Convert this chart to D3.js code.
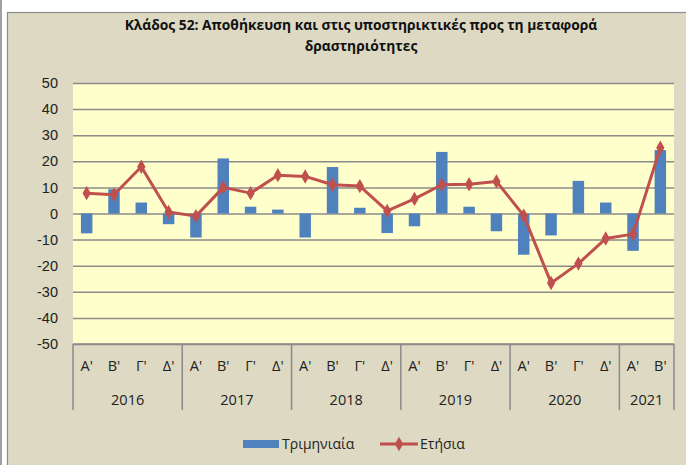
<!DOCTYPE html>
<html>
<head>
<meta charset="utf-8">
<script src="https://cdn.jsdelivr.net/npm/d3@7"></script>
<style>
  html, body { margin: 0; padding: 0; background: #fff; }
  svg { display: block; font-family: "Open Sans", "Noto Sans", sans-serif; }
</style>
</head>
<body>
<svg id="chart" width="686" height="465"></svg>
<script>
// quarters and years on the x axis
const years = ['2016', '2017', '2018', '2019', '2020', '2021'];
const quarterNames = ["Α'", "Β'", "Γ'", "Δ'"];
const quarterCount = [4, 4, 4, 4, 4, 2];

// values
const quarterly = [-7.6, 9.3, 4.2, -4.1, -9.2, 21.1, 2.6, 1.5, -9.2, 17.8, 2.2, -7.5,
                   -4.9, 23.6, 2.6, -6.8, -15.8, -8.4, 12.5, 4.2, -14.3, 24.3];
const annual = [7.8, 7.2, 17.9, 0.6, -1.0, 10.0, 7.8, 14.7, 14.2, 11.0, 10.5, 1.0,
                5.6, 11.0, 11.2, 12.3, -0.8, -26.6, -19.2, -9.6, -7.9, 25.2];

const yTicks = [50, 40, 30, 20, 10, 0, -10, -20, -30, -40, -50];
const titleLines = ['Κλάδος 52: Αποθήκευση και στις υποστηρικτικές προς τη μεταφορά', 'δραστηριότητες'];
const legendNames = ['Τριμηνιαία', 'Ετήσια'];

// build the category list
const cats = [];
years.forEach((yr, yi) => {
    for (let q = 0; q < quarterCount[yi]; q++) cats.push({ key: yr + '-' + q, year: yr, q: quarterNames[q] });
});

const svg = d3.select('#chart');
const margin = { top: 83, left: 73, right: 12, bottom: 121 };
const W = 686, H = 465;
const plotW = W - margin.left - margin.right;
const plotH = H - margin.top - margin.bottom;

// chart frame
svg.append('rect').attr('x', 0).attr('y', 0).attr('width', W).attr('height', H).attr('fill', '#fff');
svg.append('line').attr('x1', 1).attr('x2', 1).attr('y1', 0).attr('y2', H)
    .attr('stroke', '#a0a0a0').attr('stroke-width', 2);
svg.append('rect').attr('x', 7.5).attr('y', 12.5).attr('width', W).attr('height', H)
    .attr('fill', '#ddd9c3').attr('stroke', '#8c8c8c').attr('stroke-width', 1.2);

// title
svg.append('g').selectAll('text').data(titleLines).join('text')
    .attr('x', 361).attr('y', (d, i) => 30 + i * 21)
    .attr('text-anchor', 'middle')
    .attr('font-size', 13.8).attr('font-weight', 'bold').attr('fill', '#111')
    .text(d => d);

const g = svg.append('g').attr('transform', `translate(${margin.left},${margin.top})`);

const x = d3.scaleBand().domain(cats.map(d => d.key)).range([0, plotW]).paddingInner(0.58).paddingOuter(0.29);
const xc = d3.scaleBand().domain(cats.map(d => d.key)).range([0, plotW]);
const y = d3.scaleLinear().domain([-50, 50]).range([plotH, 0]);

// plot background
g.append('rect').attr('width', plotW).attr('height', plotH).attr('fill', '#ffffcc');

// gridlines
g.append('g')
    .call(d3.axisLeft(y).tickValues(yTicks).tickSize(-plotW).tickFormat(''))
    .call(a => a.select('.domain').remove())
    .call(a => a.selectAll('line').attr('stroke', '#8a8a8a').attr('stroke-width', 1.5));

// y labels (plain hyphen like the original)
g.append('g')
    .call(d3.axisLeft(y).tickValues(yTicks).tickSize(0).tickPadding(15).tickFormat(d => String(d)))
    .call(a => a.select('.domain').remove())
    .call(a => a.selectAll('text').attr('font-size', 14.5).attr('fill', '#222').attr('font-family', null));

// bars
g.append('g').selectAll('rect').data(quarterly).join('rect')
    .attr('x', (d, i) => x(cats[i].key))
    .attr('width', x.bandwidth())
    .attr('y', d => y(Math.max(0, d)))
    .attr('height', d => Math.abs(y(d) - y(0)))
    .attr('fill', '#4f81bd');

// annual line
const line = d3.line().x((d, i) => xc(cats[i].key) + xc.bandwidth() / 2).y(d => y(d));
g.append('path').datum(annual).attr('d', line)
    .attr('fill', 'none').attr('stroke', '#c0504d').attr('stroke-width', 3).attr('stroke-linejoin', 'round');
g.append('g').selectAll('path').data(annual).join('path')
    .attr('d', d3.symbol(d3.symbolDiamond, 60))
    .attr('transform', (d, i) => `translate(${xc(cats[i].key) + xc.bandwidth() / 2},${y(d)})`)
    .attr('fill', '#c0504d');

// x axis: baseline, year separators, labels
const axisY = plotH;
g.append('line').attr('x1', 0).attr('x2', plotW).attr('y1', axisY).attr('y2', axisY)
    .attr('stroke', '#8a8a8a').attr('stroke-width', 1.5);

let idx = 0;
const bounds = [0];
quarterCount.forEach(n => { idx += n; bounds.push(idx); });
g.append('g').selectAll('line').data(bounds).join('line')
    .attr('x1', d => d < cats.length ? xc(cats[d].key) : plotW)
    .attr('x2', d => d < cats.length ? xc(cats[d].key) : plotW)
    .attr('y1', axisY).attr('y2', axisY + 66)
    .attr('stroke', '#8a8a8a').attr('stroke-width', 1.5);

g.append('g').selectAll('text').data(cats).join('text')
    .attr('x', d => xc(d.key) + xc.bandwidth() / 2)
    .attr('y', axisY + 27)
    .attr('text-anchor', 'middle').attr('font-size', 14.5).attr('fill', '#222')
    .text(d => d.q);

g.append('g').selectAll('text').data(years).join('text')
    .attr('x', (d, i) => {
        const a = bounds[i], b = bounds[i + 1];
        const xa = xc(cats[a].key);
        const xb = b < cats.length ? xc(cats[b].key) : plotW;
        return (xa + xb) / 2;
    })
    .attr('y', axisY + 61)
    .attr('text-anchor', 'middle').attr('font-size', 14.5).attr('fill', '#222')
    .text(d => d);

// legend
const leg = svg.append('g');
leg.append('rect').attr('x', 243).attr('y', 440).attr('width', 36).attr('height', 8).attr('fill', '#4f81bd');
leg.append('text').attr('x', 282).attr('y', 449).attr('font-size', 14).attr('fill', '#222').text(legendNames[0]);
leg.append('line').attr('x1', 380).attr('x2', 418).attr('y1', 444).attr('y2', 444)
    .attr('stroke', '#c0504d').attr('stroke-width', 3);
leg.append('path').attr('d', d3.symbol(d3.symbolDiamond, 60)).attr('transform', 'translate(399,444)').attr('fill', '#c0504d');
leg.append('text').attr('x', 420).attr('y', 449).attr('font-size', 14).attr('fill', '#222').text(legendNames[1]);
</script>
</body>
</html>
